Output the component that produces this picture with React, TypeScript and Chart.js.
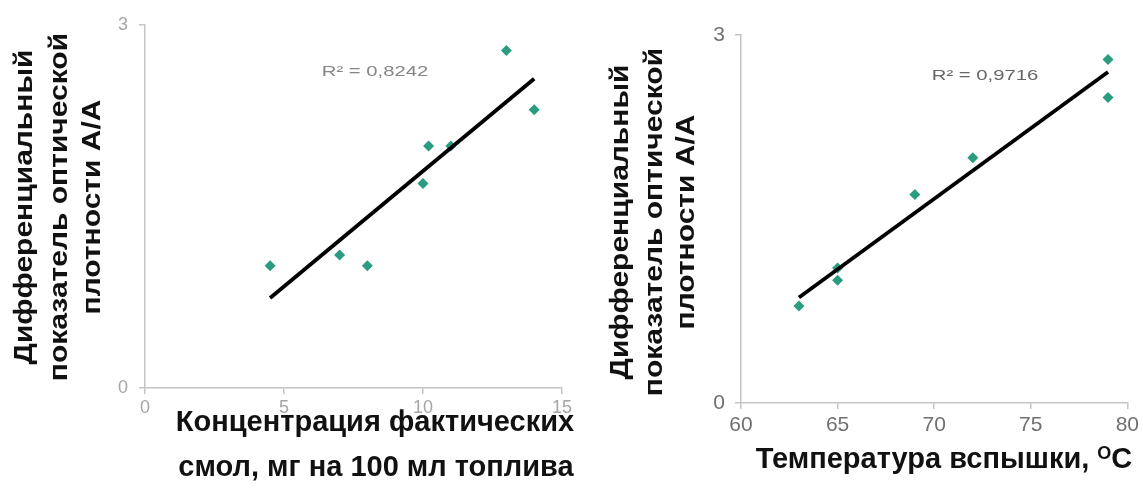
import React, { useEffect, useRef } from "react";
import { Chart, registerables } from "chart.js";

Chart.register(...registerables);

// Left panel: resin concentration vs differential optical density index
const resinConc = [4.5, 7, 8, 10, 10.2, 11, 13, 14];
const resinIndex = [1.01, 1.1, 1.01, 1.69, 2.0, 2.0, 2.79, 2.3];
const resinTicksX = [0, 5, 10, 15];
const resinR2 = "R² = 0,8242";
const resinTitleLines = ["Концентрация фактических", "смол, мг на 100 мл топлива"];

// Right panel: flash point vs differential optical density index
const flashTemp = [63, 65, 65, 69, 72, 79, 79];
const flashIndex = [0.79, 1.0, 1.1, 1.7, 2.0, 2.8, 2.49];
const flashTicksX = [60, 65, 70, 75, 80];
const flashR2 = "R² = 0,9716";
const flashTitleMain = "Температура вспышки, ";
const flashTitleSup = "O";
const flashTitleUnit = "C";

const indexTicksY = [0, 3];
const yTitleLines = ["Дифференциальный", "показатель оптической", "плотности А/А"];

const FONT = '"Liberation Sans", Arial, sans-serif';
const TEAL = "#2a9d80";
const AXIS = "#c4c4c4";

type Layout = {
  width: number;
  height: number;
  offsetX: number;
  left: number;
  top: number;
  right: number;
  bottom: number;
  yTitleX: number[];
  yTitleCY: number;
  r2CX: number;
  r2CY: number;
  tickSize: number;
  tickColor: string;
  r2Color: string;
  tickPadX: number;
  tickPadY: number;
};

type PanelProps = {
  xs: number[];
  ys: number[];
  xTicks: number[];
  r2: string;
  layout: Layout;
  drawXTitle: (ctx: CanvasRenderingContext2D, L: Layout) => void;
};

function linearFit(xs: number[], ys: number[]) {
  const n = xs.length;
  const mx = xs.reduce((a, b) => a + b, 0) / n;
  const my = ys.reduce((a, b) => a + b, 0) / n;
  let sxy = 0;
  let sxx = 0;
  for (let i = 0; i < n; i++) {
    sxy += (xs[i] - mx) * (ys[i] - my);
    sxx += (xs[i] - mx) * (xs[i] - mx);
  }
  const k = sxy / sxx;
  const b = my - k * mx;
  return (x: number) => k * x + b;
}

function drawYTitle(ctx: CanvasRenderingContext2D, L: Layout) {
  ctx.save();
  ctx.fillStyle = "#111111";
  ctx.font = `bold 25px ${FONT}`;
  ctx.textAlign = "center";
  ctx.textBaseline = "middle";
  yTitleLines.forEach((line, i) => {
    ctx.save();
    ctx.translate(L.yTitleX[i], L.yTitleCY);
    ctx.rotate(-Math.PI / 2);
    ctx.scale(1.2, 1);
    ctx.fillText(line, 0, 0);
    ctx.restore();
  });
  ctx.restore();
}

function drawR2(ctx: CanvasRenderingContext2D, L: Layout, text: string) {
  ctx.save();
  ctx.fillStyle = L.r2Color;
  ctx.font = `15px ${FONT}`;
  ctx.textAlign = "center";
  ctx.textBaseline = "middle";
  ctx.translate(L.r2CX, L.r2CY);
  ctx.scale(1.35, 1);
  ctx.fillText(text, 0, 0);
  ctx.restore();
}

function drawResinTitle(ctx: CanvasRenderingContext2D) {
  ctx.save();
  ctx.fillStyle = "#111111";
  ctx.font = `bold 29px ${FONT}`;
  ctx.textAlign = "center";
  ctx.textBaseline = "alphabetic";
  ctx.fillText(resinTitleLines[0], 375, 431);
  ctx.fillText(resinTitleLines[1], 376, 476);
  ctx.restore();
}

function drawFlashTitle(ctx: CanvasRenderingContext2D) {
  ctx.save();
  ctx.fillStyle = "#111111";
  ctx.textBaseline = "alphabetic";
  ctx.textAlign = "left";
  const mainFont = `bold 29px ${FONT}`;
  const supFont = `bold 18px ${FONT}`;
  ctx.font = mainFont;
  const wMain = ctx.measureText(flashTitleMain).width;
  const wUnit = ctx.measureText(flashTitleUnit).width;
  ctx.font = supFont;
  const wSup = ctx.measureText(flashTitleSup).width;
  const total = wMain + wSup + wUnit;
  let x = 364 - total / 2;
  const base = 468;
  ctx.font = mainFont;
  ctx.fillText(flashTitleMain, x, base);
  x += wMain;
  ctx.font = supFont;
  ctx.fillText(flashTitleSup, x, base - 9);
  x += wSup;
  ctx.font = mainFont;
  ctx.fillText(flashTitleUnit, x, base);
  ctx.restore();
}

function Panel({ xs, ys, xTicks, r2, layout: L, drawXTitle }: PanelProps) {
  const ref = useRef<HTMLCanvasElement | null>(null);

  useEffect(() => {
    if (!ref.current) return;
    const fit = linearFit(xs, ys);
    const xMin = Math.min(...xs);
    const xMax = Math.max(...xs);

    const captions = {
      id: "captions",
      afterDraw(chart: Chart) {
        const ctx = chart.ctx;
        drawYTitle(ctx, L);
        drawXTitle(ctx, L);
        drawR2(ctx, L, r2);
      },
    };

    const tickFont = { family: FONT, size: L.tickSize };

    const chart = new Chart(ref.current, {
      type: "scatter",
      data: {
        datasets: [
          {
            type: "line",
            data: [
              { x: xMin, y: fit(xMin) },
              { x: xMax, y: fit(xMax) },
            ],
            borderColor: "#000000",
            borderWidth: 3.8,
            pointRadius: 0,
            fill: false,
          } as any,
          {
            type: "scatter",
            data: xs.map((x, i) => ({ x, y: ys[i] })),
            pointStyle: "rectRot",
            pointRadius: 5.5,
            backgroundColor: TEAL,
            borderColor: TEAL,
            borderWidth: 0,
          },
        ],
      },
      options: {
        animation: false,
        responsive: false,
        maintainAspectRatio: false,
        events: [],
        layout: {
          padding: { left: 0, top: L.top, right: L.width - L.right, bottom: 0 },
        },
        plugins: {
          legend: { display: false },
          tooltip: { enabled: false },
        },
        scales: {
          x: {
            type: "linear",
            min: xTicks[0],
            max: xTicks[xTicks.length - 1],
            afterBuildTicks: (s: any) => {
              s.ticks = xTicks.map((v) => ({ value: v }));
            },
            afterFit: (s: any) => {
              s.height = L.height - L.bottom;
            },
            grid: {
              drawOnChartArea: false,
              drawTicks: true,
              tickLength: 6,
              color: AXIS,
              lineWidth: 1.5,
            },
            border: { color: AXIS, width: 1.5 },
            ticks: { color: L.tickColor, font: tickFont, padding: L.tickPadX, maxRotation: 0 },
            title: { display: false },
          },
          y: {
            type: "linear",
            min: indexTicksY[0],
            max: indexTicksY[indexTicksY.length - 1],
            afterBuildTicks: (s: any) => {
              s.ticks = indexTicksY.map((v) => ({ value: v }));
            },
            afterFit: (s: any) => {
              s.width = L.left;
            },
            grid: {
              drawOnChartArea: false,
              drawTicks: true,
              tickLength: 6,
              color: AXIS,
              lineWidth: 1.5,
            },
            border: { color: AXIS, width: 1.5 },
            ticks: { color: L.tickColor, font: tickFont, padding: L.tickPadY },
            title: { display: false },
          },
        },
      },
      plugins: [captions],
    });

    return () => chart.destroy();
  }, [xs, ys, xTicks, r2, L, drawXTitle]);

  return (
    <canvas
      ref={ref}
      width={L.width}
      height={L.height}
      style={{ position: "absolute", left: L.offsetX, top: 0, width: L.width, height: L.height }}
    />
  );
}

const leftLayout: Layout = {
  width: 580,
  height: 493,
  offsetX: 0,
  left: 145,
  top: 25,
  right: 562,
  bottom: 388,
  yTitleX: [25, 60, 93],
  yTitleCY: 207,
  r2CX: 375,
  r2CY: 72,
  tickSize: 18,
  tickColor: "#a6a6a6",
  r2Color: "#858585",
  tickPadX: 3,
  tickPadY: 11,
};

const rightLayout: Layout = {
  width: 563,
  height: 493,
  offsetX: 580,
  left: 161,
  top: 35,
  right: 550,
  bottom: 403,
  yTitleX: [41.5, 75, 107],
  yTitleCY: 222,
  r2CX: 405,
  r2CY: 76,
  tickSize: 21,
  tickColor: "#707070",
  r2Color: "#666666",
  tickPadX: 4,
  tickPadY: 10,
};

export default function App() {
  return (
    <div
      style={{
        position: "absolute",
        left: 0,
        top: 0,
        width: 1143,
        height: 493,
        background: "#ffffff",
        overflow: "hidden",
      }}
    >
      <Panel
        xs={resinConc}
        ys={resinIndex}
        xTicks={resinTicksX}
        r2={resinR2}
        layout={leftLayout}
        drawXTitle={drawResinTitle}
      />
      <Panel
        xs={flashTemp}
        ys={flashIndex}
        xTicks={flashTicksX}
        r2={flashR2}
        layout={rightLayout}
        drawXTitle={drawFlashTitle}
      />
    </div>
  );
}
